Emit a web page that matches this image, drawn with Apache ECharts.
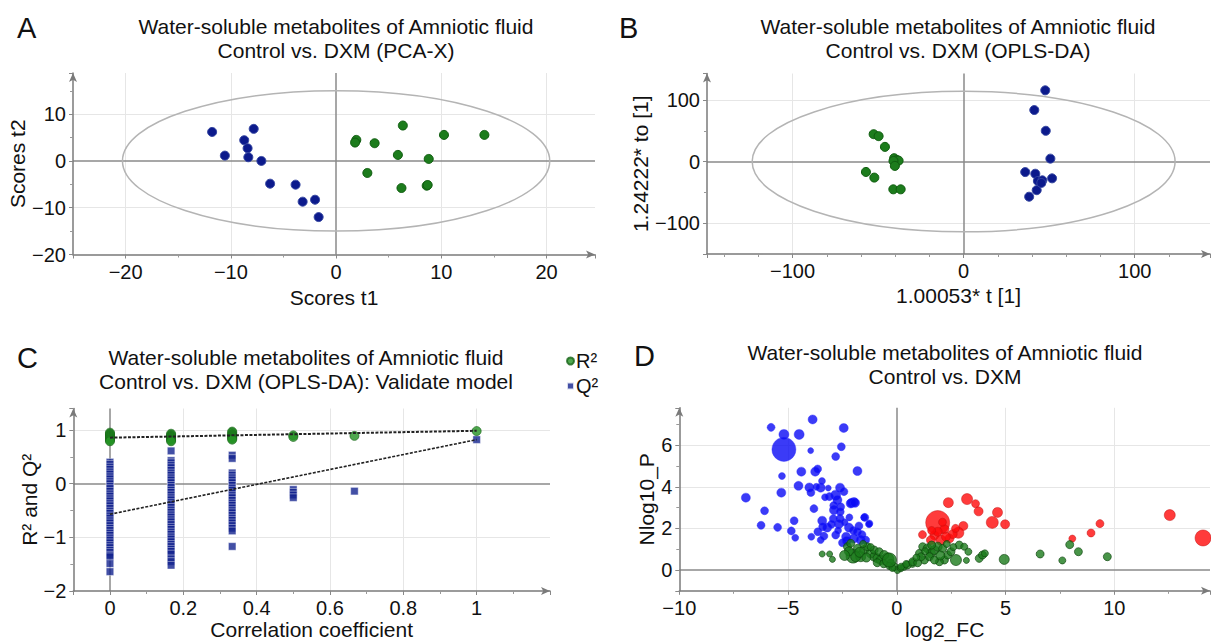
<!DOCTYPE html>
<html><head><meta charset="utf-8">
<script src="https://cdn.jsdelivr.net/npm/echarts@6/dist/echarts.min.js"></script>
<style>html,body{margin:0;padding:0;background:#fff}#c{width:1211px;height:642px}</style>
</head><body><div id="c"></div>
<script>
// ---------------- DATA ----------------
// Panel A: PCA-X scores [t1, t2]
const pcaGreen = [[6.34,7.57],[10.25,5.57],[14.09,5.57],[1.92,4.5],[1.8,3.93],[3.66,3.79],[5.87,1.29],[8.8,0.43],[2.97,-2.57],[6.21,-5.79],[8.61,-5.29],[8.7,-5.14]];
const pcaBlue = [[-11.78,6.2],[-10.57,1.14],[-8.73,4.43],[-7.83,6.86],[-8.41,2.71],[-8.34,0.79],[-7.1,0.0],[-6.27,-4.86],[-3.85,-5.07],[-3.18,-8.71],[-2.0,-8.29],[-1.66,-12.0]];
const ellipsePCA = [0, 0, 20.3, 15];
// Panel B: OPLS-DA scores [t, to]
const oplsGreen = [[-52.6,44.5],[-49.7,41.3],[-46,23.9],[-40.6,5.5],[-39,2.5],[-38,1.5],[-41,1],[-40.2,-7],[-57.1,-16.8],[-52.2,-26],[-41.1,-45],[-36.8,-45]];
const oplsBlue = [[47.7,115.7],[41.3,83.7],[48,50],[50.7,4.8],[36,-17],[41.9,-19.7],[43.4,-31.5],[46,-30.4],[51.7,-27.2],[42.7,-46.4],[38.3,-57],[45.4,-34.7]];
const ellipseOPLS = [0, 0, 123.6, 114];
// Panel C: permutation test
const permX = [0, 0.1667, 0.3333, 0.5, 0.6667, 1];
const permR2 = [
  [0.95,0.93,0.91,0.89,0.87,0.85,0.83,0.81,0.79],
  [0.93,0.91,0.89,0.87,0.85,0.83,0.81,0.79],
  [0.97,0.95,0.92,0.9,0.88,0.86,0.84,0.82],
  [0.9,0.87],
  [0.89],
  [0.98]
];
const permQ2 = [
  [0.40,0.36,0.31,0.27,0.22,0.18,0.13,0.09,0.04,0.0,-0.05,-0.09,-0.14,-0.19,-0.23,-0.28,-0.32,-0.37,-0.41,-0.46,-0.51,-0.55,-0.6,-0.64,-0.69,-0.73,-0.78,-0.83,-0.87,-0.92,-0.96,-1.01,-1.05,-1.1,-1.15,-1.19,-1.24,-1.28,-1.33,-1.36,-1.49,-1.64],
  [0.61,0.43,0.39,0.34,0.3,0.25,0.2,0.16,0.11,0.07,0.02,-0.03,-0.07,-0.12,-0.16,-0.21,-0.26,-0.3,-0.35,-0.39,-0.44,-0.49,-0.53,-0.58,-0.62,-0.67,-0.71,-0.76,-0.81,-0.85,-0.9,-0.94,-0.99,-1.03,-1.08,-1.13,-1.17,-1.22,-1.26,-1.31,-1.4,-1.45,-1.52],
  [0.53,0.47,0.2,0.16,0.11,0.07,0.02,-0.03,-0.08,-0.12,-0.17,-0.22,-0.26,-0.31,-0.36,-0.4,-0.45,-0.5,-0.54,-0.59,-0.64,-0.68,-0.73,-0.78,-0.83,-0.88,-1.17],
  [-0.11,-0.16,-0.21,-0.26],
  [-0.14],
  [0.82]
];
const r2Line = [[0,0.857],[1,0.985]];
const q2Line = [[0,-0.57],[1,0.82]];
// Panel D: volcano [log2_FC, Nlog10_P, size]
const volDown = [[-5.19,5.8,24],[-5.78,6.86,8],[-5.19,6.52,10],[-4.49,6.52,10],[-3.87,7.24,9],[-2.44,6.83,9],[-2.55,5.93,8],[-3.96,5.74,6],[-2.81,5.46,8],[-4.39,4.73,9],[-3.75,4.73,9],[-3.64,4.86,8],[-1.81,4.76,9],[-5.28,4.52,7],[-5.31,3.72,9],[-6.94,3.48,9],[-4.52,4.05,9],[-4.02,3.97,9],[-3.95,3.73,8],[-3.5,3.96,9],[-3.44,4.28,7],[-3.15,3.94,6],[-2.61,3.96,9],[-2.43,3.77,8],[-3.1,3.53,8],[-2.81,3.6,10],[-2.73,3.37,9],[-2.12,3.2,9],[-1.97,3.27,9],[-6.08,2.85,8],[-3.81,2.95,8],[-2.89,2.88,9],[-2.58,3.04,8],[-2.92,2.47,8],[-3.43,2.37,9],[-4.72,2.37,8],[-2.61,2.48,8],[-6.24,2.15,8],[-5.48,2.05,8],[-4.85,1.88,8],[-4.67,1.55,7],[-3.93,1.6,7],[-3.63,1.84,8],[-3.41,2.08,8],[-3.2,2.04,9],[-2.81,1.68,8],[-2.66,2.21,9],[-2.2,2.04,9],[-1.74,2.12,8],[-1.47,2.53,8],[-1.26,2.24,7],[-1.81,1.84,8],[-2.33,1.6,9],[-2.5,1.31,8],[-1.97,1.52,9],[-1.66,1.44,9],[-1.43,1.44,8],[-3.5,1.44,7],[-3.35,1.63,8],[-2.18,2.53,7],[-2.9,3.1,8],[-2.6,2.8,8],[-3.0,2.2,8],[-2.4,2.3,7],[-2.0,1.9,8],[-1.6,1.7,8],[-2.3,1.4,9],[-2.7,1.9,7],[-3.3,3.5,7],[-3.7,4.0,7],[-2.08,3.23,9],[-1.92,3.23,9],[-1.5,2.53,7],[-1.28,2.2,7]];
const volUp = [[1.88,2.28,24],[2.37,3.24,10],[3.23,3.41,11],[3.62,3.19,8],[3.76,2.82,9],[4.63,2.77,10],[4.39,2.29,12],[4.98,2.2,9],[3.06,2.12,9],[2.83,1.79,11],[1.18,1.7,8],[1.73,1.67,9],[2.19,1.96,9],[2.42,1.52,9],[2.03,1.44,10],[1.57,1.44,9],[2.57,1.73,9],[1.88,1.84,9],[2.26,1.6,9],[2.1,2.3,8],[1.6,1.9,8],[2.7,2.0,8],[8.07,1.51,7],[8.93,1.78,8],[9.34,2.23,8],[12.55,2.64,11],[14.08,1.54,16]];
const volNS = [[-3.43,0.77,6],[-3.09,0.77,6],[-2.96,0.51,6],[-2.01,0.67,14],[-0.43,0.51,13],[-2.27,1.12,8],[-2.12,1.28,8],[-1.81,1.04,8],[-1.5,0.96,9],[-1.2,0.8,9],[-1.04,0.64,9],[-0.89,0.56,9],[-0.74,0.48,9],[-1.35,1.12,8],[-1.66,0.64,10],[-1.89,0.64,10],[-1.04,0.96,8],[-0.81,0.88,8],[-0.58,0.72,9],[-0.28,0.32,8],[-0.12,0.16,8],[0.03,0.0,7],[0.18,0.08,7],[0.34,0.16,7],[0.49,0.24,8],[0.72,0.32,8],[-2.2,0.9,9],[-1.7,0.85,10],[-1.4,0.6,9],[-0.9,0.35,8],[-0.6,0.3,8],[-0.35,0.2,7],[-0.2,0.1,7],[-1.2,1.1,7],[-2.4,0.7,10],[-1.55,1.25,7],[-0.34,0.48,14],[0.2,0.16,7],[0.43,0.29,7],[0.73,0.4,8],[1.04,0.8,8],[1.19,1.12,8],[1.42,1.04,9],[1.57,0.8,9],[1.73,0.96,9],[1.88,1.12,9],[2.11,1.04,8],[2.19,0.48,8],[2.34,0.72,8],[2.49,0.88,8],[2.72,0.48,11],[2.87,1.2,8],[3.1,1.12,7],[3.29,0.88,7],[3.2,0.46,6],[3.79,0.56,8],[3.94,0.72,8],[4.05,0.8,7],[4.94,0.51,10],[6.59,0.77,8],[7.61,0.46,7],[7.95,1.22,8],[8.35,0.88,8],[9.68,0.64,8],[1.27,0.48,8],[1.5,0.64,8],[1.96,0.4,8],[0.96,0.35,8],[1.73,0.48,8],[1.12,0.64,8],[0.9,0.6,7],[1.3,0.9,7],[2.0,0.7,9],[2.6,1.1,7],[1.6,1.2,8],[2.3,1.25,7]];
// Grid line positions (tick values)
const gridAx = [-20,-10,10,20], gridAy = [10,-10];
const gridBx = [-100,100], gridBy = [100,-100];
const gridCx = [0.2,0.4,0.6,0.8,1], gridCy = [1,-1];
const gridDx = [-5,5,10], gridDy = [2,4,6];

// ---------------- CHART ----------------
const FONT = "'Liberation Sans', Arial, Helvetica, sans-serif";
const fmt = v => (v < 0 ? '\u2212' : '') + String(Math.abs(Math.round(v*1000)/1000));

function axis(dim, gi, min, max, split, showMin, name, nameGap) {
  return {
    type: 'value', gridIndex: gi, min: min, max: max, splitNumber: split,
    position: dim === 'x' ? 'bottom' : 'left',
    name: name, nameLocation: 'middle', nameGap: nameGap,
    nameTextStyle: {fontSize: 21, color: '#111', fontFamily: FONT},
    axisLine: {show: true, onZero: false, symbol: ['none','arrow'], symbolSize: [6,9], lineStyle: {color: '#7a7a7a', width: 1.5}},
    axisTick: {show: true, length: 4, lineStyle: {color: '#888'}},
    minorTick: {show: true, splitNumber: dim === 'x' && gi === 1 ? 5 : 2, length: 3, lineStyle: {color: '#999'}},
    splitLine: {show: false}, minorSplitLine: {show: false},
    axisLabel: {show: true, margin: 7, fontSize: 20, color: '#111', fontFamily: FONT,
      showMinLabel: showMin, showMaxLabel: false, formatter: fmt}
  };
}
function gridMarks(xs, ys) {
  const light = {color: '#e6e6e6', width: 1, type: 'solid'};
  const dark = {color: '#8a8a8a', width: 1.5, type: 'solid'};
  return {
    silent: true, z: 0, symbol: ['none','none'], label: {show: false}, emphasis: {disabled: true},
    data: xs.map(v => ({xAxis: v, lineStyle: light}))
      .concat(ys.map(v => ({yAxis: v, lineStyle: light})))
      .concat([{xAxis: 0, lineStyle: dark}, {yAxis: 0, lineStyle: dark}])
  };
}
function helper(gi, xs, ys) {
  return {type: 'scatter', xAxisIndex: gi, yAxisIndex: gi, data: [], z: 0, silent: true, markLine: gridMarks(xs, ys)};
}
function ellipse(gi, e) {
  return {type: 'custom', xAxisIndex: gi, yAxisIndex: gi, data: [e], z: 1, silent: true,
    renderItem: function (params, api) {
      const c = api.coord([api.value(0), api.value(1)]);
      const p = api.coord([api.value(0) + api.value(2), api.value(1) + api.value(3)]);
      return {type: 'ellipse', shape: {cx: c[0], cy: c[1], rx: Math.abs(p[0]-c[0]), ry: Math.abs(c[1]-p[1])},
        style: {fill: 'none', stroke: '#b4b4b4', lineWidth: 1.5}};
    }};
}
function dots(gi, name, data, color, border, size) {
  return {type: 'scatter', name: name, xAxisIndex: gi, yAxisIndex: gi, data: data, z: 3,
    symbol: 'circle', symbolSize: size, itemStyle: {color: color, borderColor: border, borderWidth: 1, opacity: 1}};
}

const r2Data = [], q2Data = [];
permX.forEach((x, i) => {
  permR2[i].forEach(v => r2Data.push([x, v]));
  permQ2[i].forEach(v => q2Data.push([x, v]));
});

function txt(x, y, text, size, align) {
  return {type: 'text', x: x, y: y, silent: true, style: {text: text, fontSize: size, fontFamily: FONT,
    fill: '#111', align: align || 'center', verticalAlign: 'top', lineHeight: size + 3}};
}

const chart = echarts.init(document.getElementById('c'), null, {renderer: 'svg'});
chart.setOption({
  animation: false,
  backgroundColor: '#fff',
  grid: [
    {left: 73, top: 73, width: 522, height: 181.5, outerBoundsMode: 'none', containLabel: false},
    {left: 707, top: 73.5, width: 503, height: 180.5, outerBoundsMode: 'none', containLabel: false},
    {left: 73.3, top: 408.5, width: 476.7, height: 182.5, outerBoundsMode: 'none', containLabel: false},
    {left: 679.3, top: 407.8, width: 530.7, height: 183, outerBoundsMode: 'none', containLabel: false}
  ],
  xAxis: [
    axis('x', 0, -25, 24.6, 5, false, 'Scores t1', 32),
    axis('x', 1, -150, 144, 3, false, '1.00053* t [1]', 31),
    axis('x', 2, -0.1, 1.2, 6, false, 'Correlation coefficient', 28),
    axis('x', 3, -10, 14.4, 5, true, 'log2_FC', 27)
  ],
  yAxis: [
    axis('y', 0, -20, 18.8, 5, true, 'Scores t2', 40),
    axis('y', 1, -150, 143, 3, false, '1.24222* to [1]', 38),
    axis('y', 2, -2, 1.4, 4, true, 'R\u00b2 and Q\u00b2', 30),
    axis('y', 3, -1, 7.8, 5, false, 'Nlog10_P', 18)
  ],
  legend: {
    data: [{name: 'R\u00b2', icon: 'circle'}, {name: 'Q\u00b2', icon: 'rect'}],
    orient: 'vertical', left: 561, top: 346, itemWidth: 7, itemHeight: 7, itemGap: 5,
    selectedMode: false, textStyle: {fontSize: 20, color: '#111', fontFamily: FONT, padding: [0,0,0,-3]}
  },
  graphic: [
    txt(336, 14, 'Water-soluble metabolites of Amniotic fluid\nControl vs. DXM (PCA-X)', 21),
    txt(958, 14, 'Water-soluble metabolites of Amniotic fluid\nControl vs. DXM (OPLS-DA)', 21),
    txt(306, 345, 'Water-soluble metabolites of Amniotic fluid\nControl vs. DXM (OPLS-DA): Validate model', 21),
    txt(945, 340, 'Water-soluble metabolites of Amniotic fluid\nControl vs. DXM', 21),
    txt(17, 12, 'A', 29, 'left'),
    txt(619, 12, 'B', 29, 'left'),
    txt(17, 342, 'C', 29, 'left'),
    txt(634, 340, 'D', 29, 'left')
  ],
  series: [
    helper(0, gridAx, gridAy),
    ellipse(0, ellipsePCA),
    dots(0, 'DXM', pcaBlue, '#0c1a8c', '#3344a0', 9),
    dots(0, 'Control', pcaGreen, '#1c7c1c', '#0f5c0f', 9),

    helper(1, gridBx, gridBy),
    ellipse(1, ellipseOPLS),
    dots(1, 'Control', oplsGreen, '#1c7c1c', '#0f5c0f', 9),
    dots(1, 'DXM', oplsBlue, '#0c1a8c', '#3344a0', 9),

    helper(2, gridCx, gridCy),
    {type: 'scatter', name: 'Q\u00b2', xAxisIndex: 2, yAxisIndex: 2, data: q2Data, z: 3, symbol: 'rect', symbolSize: 7.5,
      itemStyle: {color: '#13238e', borderColor: '#ffffff', borderWidth: 0.5}},
    {type: 'scatter', name: 'R\u00b2', xAxisIndex: 2, yAxisIndex: 2, data: r2Data, z: 3, symbol: 'circle', symbolSize: 9,
      itemStyle: {color: '#239223', borderColor: '#166316', borderWidth: 0.8}},
    {type: 'line', name: 'R2 line', xAxisIndex: 2, yAxisIndex: 2, data: r2Line, z: 4, symbol: 'none', silent: true,
      lineStyle: {color: '#222', width: 2, type: [3, 1.5]}},
    {type: 'line', name: 'Q2 line', xAxisIndex: 2, yAxisIndex: 2, data: q2Line, z: 4, symbol: 'none', silent: true,
      lineStyle: {color: '#222', width: 1.6, type: [3, 1.5]}},

    helper(3, gridDx, gridDy),
    {type: 'scatter', name: 'down', xAxisIndex: 3, yAxisIndex: 3, data: volDown, z: 3, symbolSize: v => v[2],
      itemStyle: {color: '#0a0af5', borderColor: '#2a2aff', borderWidth: 0.5}},
    {type: 'scatter', name: 'up', xAxisIndex: 3, yAxisIndex: 3, data: volUp, z: 3, symbolSize: v => v[2],
      itemStyle: {color: '#ff0a0a', borderColor: '#c01010', borderWidth: 0.6}},
    {type: 'scatter', name: 'ns', xAxisIndex: 3, yAxisIndex: 3, data: volNS, z: 4, symbolSize: v => v[2],
      itemStyle: {color: '#1b7b1b', borderColor: '#0b400b', borderWidth: 0.8}}
  ]
});
</script></body></html>
